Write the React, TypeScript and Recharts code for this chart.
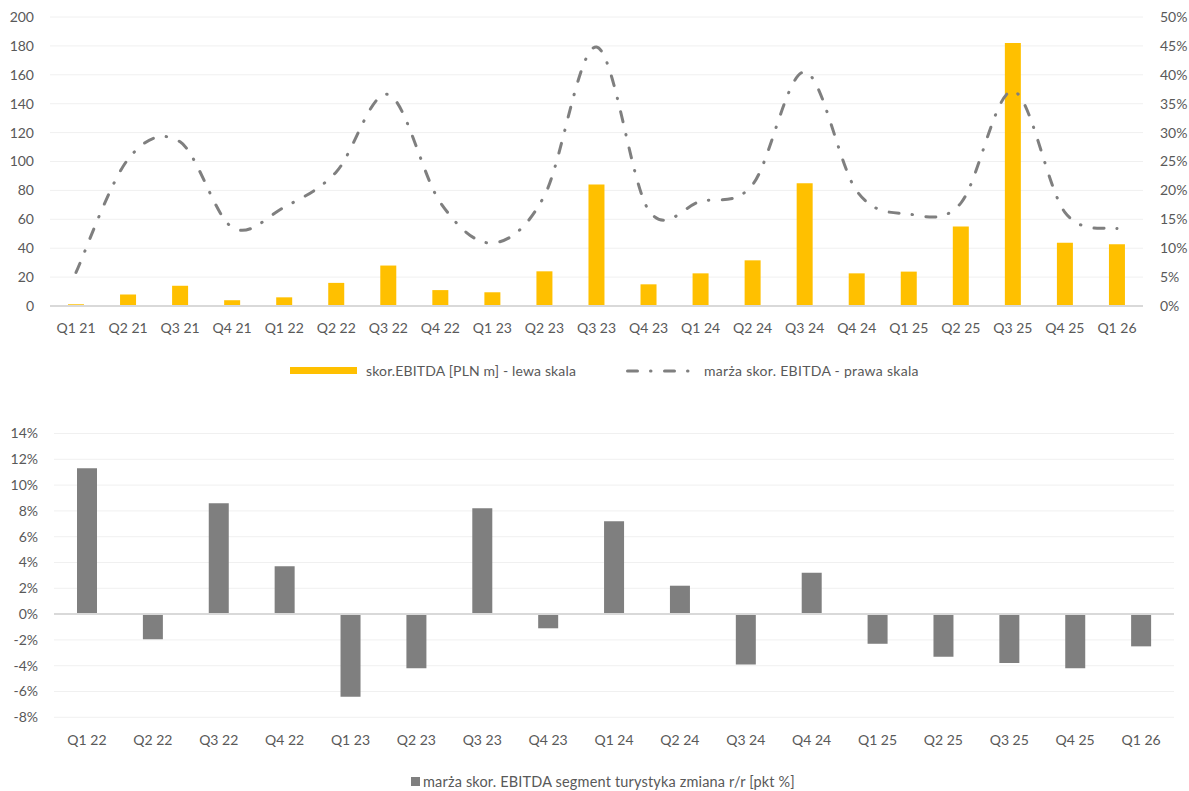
import React from 'react';
import { ComposedChart, BarChart, Bar, Line, XAxis, YAxis, CartesianGrid, ReferenceLine } from 'recharts';

const quarters = [
    'Q1 21', 'Q2 21', 'Q3 21', 'Q4 21',
    'Q1 22', 'Q2 22', 'Q3 22', 'Q4 22',
    'Q1 23', 'Q2 23', 'Q3 23', 'Q4 23',
    'Q1 24', 'Q2 24', 'Q3 24', 'Q4 24',
    'Q1 25', 'Q2 25', 'Q3 25', 'Q4 25',
    'Q1 26',
];
// skor. EBITDA [PLN m]
const ebitda = [1.2, 8, 14, 4, 6, 16, 28, 11, 9.5, 24, 84, 15, 22.6, 31.6, 85, 22.6, 23.8, 55, 182, 43.8, 42.7];
// marża skor. EBITDA [%]
const margin = [5.8, 25.4, 28.4, 13.6, 17.1, 23.2, 36.6, 17.9, 10.9, 19.1, 44.8, 16.6, 18.1, 21, 40.5, 19.9, 15.9, 17.8, 37.2, 16.2, 13.4];

const yoyQuarters = [
    'Q1 22', 'Q2 22', 'Q3 22', 'Q4 22',
    'Q1 23', 'Q2 23', 'Q3 23', 'Q4 23',
    'Q1 24', 'Q2 24', 'Q3 24', 'Q4 24',
    'Q1 25', 'Q2 25', 'Q3 25', 'Q4 25',
    'Q1 26',
];
// zmiana marży r/r [pkt %]
const marginChange = [11.3, -1.95, 8.6, 3.7, -6.4, -4.2, 8.2, -1.1, 7.2, 2.2, -3.9, 3.2, -2.3, -3.3, -3.8, -4.2, -2.5];

const leftTicks = [0, 20, 40, 60, 80, 100, 120, 140, 160, 180, 200];
const rightTicks = [0, 5, 10, 15, 20, 25, 30, 35, 40, 45, 50];
const bottomTicks = [-8, -6, -4, -2, 0, 2, 4, 6, 8, 10, 12, 14];

const topData = quarters.map((q, i) => ({ q, ebitda: ebitda[i], margin: margin[i] }));
const bottomData = yoyQuarters.map((q, i) => ({ q, change: marginChange[i] }));

const FONT = 'Lato, "Open Sans", sans-serif';
const TEXT = '#595959';
const GRID = '#f0f0f0';
const YELLOW = '#ffc000';
const GREY = '#7f7f7f';
const DASH = '10 13 0.5 13.5';

// Excel-like smoothed line (Catmull-Rom through the points)
const smoothCurve = (context: any) => {
    let pts: [number, number][] = [];
    return {
        areaStart() {},
        areaEnd() {},
        lineStart() { pts = []; },
        lineEnd() {
            if (!pts.length) return;
            context.moveTo(pts[0][0], pts[0][1]);
            for (let i = 0; i < pts.length - 1; i++) {
                const p0 = pts[i - 1] || pts[i];
                const p1 = pts[i];
                const p2 = pts[i + 1];
                const p3 = pts[i + 2] || p2;
                context.bezierCurveTo(
                    p1[0] + (p2[0] - p0[0]) / 6, p1[1] + (p2[1] - p0[1]) / 6,
                    p2[0] - (p3[0] - p1[0]) / 6, p2[1] - (p3[1] - p1[1]) / 6,
                    p2[0], p2[1]
                );
            }
        },
        point(x: number, y: number) { pts.push([x, y]); },
    };
};

const tickStyle = { fontSize: 14, fill: TEXT, fontFamily: FONT };
const legendText: React.CSSProperties = {
    position: 'absolute', fontSize: 14, lineHeight: '14px', color: TEXT, fontFamily: FONT, whiteSpace: 'nowrap',
};

export default function App() {
    return (
        <div style={{ position: 'absolute', left: 0, top: 0, width: 1189, height: 791, background: '#fff', overflow: 'hidden' }}>
            <div style={{ position: 'absolute', left: 0, top: 0 }}>
                <ComposedChart width={1189} height={345} data={topData} margin={{ top: 17, right: 0, bottom: 0, left: 0 }}>
                    <CartesianGrid vertical={false} stroke={GRID} yAxisId="left" />
                    <XAxis
                        dataKey="q"
                        height={39}
                        tickLine={false}
                        tickSize={6}
                        tickMargin={11}
                        axisLine={{ stroke: '#d9d9d9', strokeWidth: 2 }}
                        tick={tickStyle}
                        interval={0}
                    />
                    <YAxis
                        yAxisId="left"
                        width={50}
                        domain={[0, 200]}
                        ticks={leftTicks}
                        axisLine={false}
                        tickLine={false}
                        tickMargin={10}
                        tick={tickStyle}
                    />
                    <YAxis
                        yAxisId="right"
                        orientation="right"
                        width={46}
                        domain={[0, 50]}
                        ticks={rightTicks}
                        axisLine={false}
                        tickLine={false}
                        tickMargin={11}
                        tick={{ ...tickStyle, textAnchor: 'start' }}
                        tickFormatter={(v) => `${v}%`}
                    />
                    <Bar yAxisId="left" dataKey="ebitda" fill={YELLOW} barSize={16} isAnimationActive={false} />
                    <Line
                        yAxisId="right"
                        dataKey="margin"
                        type={smoothCurve as any}
                        stroke={GREY}
                        strokeWidth={3}
                        strokeDasharray={DASH}
                        strokeLinecap="round"
                        dot={false}
                        activeDot={false}
                        isAnimationActive={false}
                    />
                </ComposedChart>
            </div>

            <div style={{ position: 'absolute', left: 290, top: 366.7, width: 67, height: 7.6, background: YELLOW }} />
            <div style={{ ...legendText, left: 366, top: 364, letterSpacing: 0.15 }}>skor.EBITDA [PLN m] - lewa skala</div>
            <svg style={{ position: 'absolute', left: 620, top: 362 }} width={76} height={18}>
                <line x1={7.5} y1={9} x2={72} y2={9} stroke={GREY} strokeWidth={3} strokeDasharray="10 13 0.5 13.5" strokeLinecap="round" />
            </svg>
            <div style={{ ...legendText, left: 704, top: 364, letterSpacing: 0.3 }}>marża skor. EBITDA - prawa skala</div>

            <div style={{ position: 'absolute', left: 0, top: 420 }}>
                <BarChart width={1189} height={340} data={bottomData} margin={{ top: 13.5, right: 15, bottom: 0, left: 0 }}>
                    <CartesianGrid vertical={false} stroke={GRID} />
                    <XAxis
                        dataKey="q"
                        height={42.7}
                        tickLine={false}
                        tickSize={6}
                        tickMargin={12}
                        axisLine={false}
                        tick={tickStyle}
                        interval={0}
                    />
                    <YAxis
                        width={54}
                        domain={[-8, 14]}
                        ticks={bottomTicks}
                        axisLine={false}
                        tickLine={false}
                        tickMargin={10}
                        tick={tickStyle}
                        tickFormatter={(v) => `${v}%`}
                    />
                    <ReferenceLine y={0} stroke="#d9d9d9" strokeWidth={2} />
                    <Bar dataKey="change" fill={GREY} barSize={20} isAnimationActive={false} />
                </BarChart>
            </div>

            <div style={{ position: 'absolute', left: 411, top: 777, width: 8.5, height: 8.5, background: GREY }} />
            <div style={{ ...legendText, fontSize: 14.5, lineHeight: '14.5px', left: 423, top: 774.5, letterSpacing: 0.17 }}>marża skor. EBITDA segment turystyka zmiana r/r [pkt %]</div>
        </div>
    );
}
